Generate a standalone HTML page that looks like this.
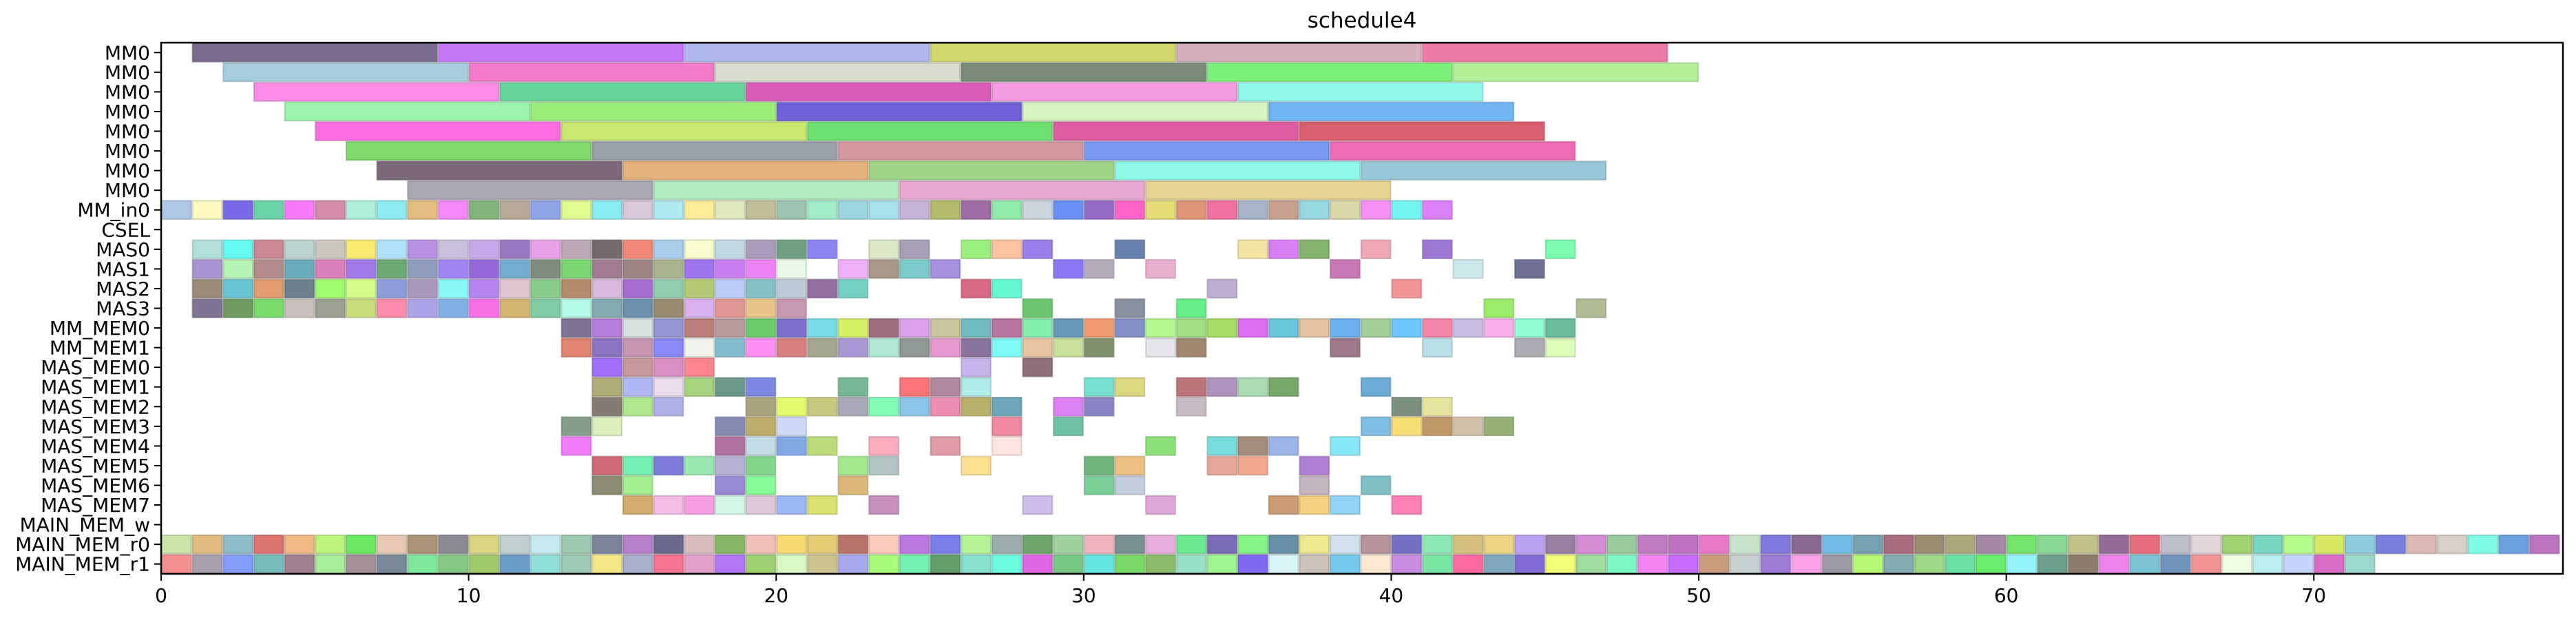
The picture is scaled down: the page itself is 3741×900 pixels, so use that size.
<!DOCTYPE html>
<html><head><meta charset="utf-8">
<style>
html,body{margin:0;padding:0;background:#fff;}
svg{display:block;font-family:"DejaVu Sans","Liberation Sans",sans-serif;}
</style></head>
<body>
<svg id="chart" width="3741" height="900" viewBox="0 0 3741 900" xmlns="http://www.w3.org/2000/svg">
<text x="1978" y="40" font-size="31" text-anchor="middle" fill="#000">schedule4</text>
<g id="bars"></g>
<g id="yaxis"></g>
<g id="xaxis"></g>
<rect x="234" y="62" width="3488" height="771" fill="none" stroke="#000" stroke-width="2.5"/>
</svg>
<script>
const rowLabels = ["MM0","MM0","MM0","MM0","MM0","MM0","MM0","MM0","MM_in0","CSEL","MAS0","MAS1","MAS2","MAS3","MM_MEM0","MM_MEM1","MAS_MEM0","MAS_MEM1","MAS_MEM2","MAS_MEM3","MAS_MEM4","MAS_MEM5","MAS_MEM6","MAS_MEM7","MAIN_MEM_w","MAIN_MEM_r0","MAIN_MEM_r1"];
const xTicks = [0,10,20,30,40,50,60,70];
const xMin = 0, xMax = 78.1;
// each entry: [start, duration, consecutive task colors]
const rowTasks = [
 [[1,8,'7a6a8c c377f7 b0b8ee d4d86a d4b0bc ee7aa8']],
 [[2,8,'a6cddc f27ac8 d8dccc 7a8a78 7df07a b4f09a']],
 [[3,8,'fa8ce8 66d49a d85cb8 f49ae0 90f8e8']],
 [[4,8,'9af4ac 9cec7a 7060d8 d8f4c0 70b4f4']],
 [[5,8,'fe6ee0 c8e870 6ee070 e05ca0 d86070']],
 [[6,8,'80da6c 9aa0a8 d4989c 7898f4 ee6cb4']],
 [[7,8,'7c6a7c e4b07c a0d488 90fae8 98c8d8']],
 [[8,8,'aaa6b6 b0ecc0 e8a8d4 e4d490']],
 [[0,1,'b0c8e8 fef8c0 7a6ae8 6ad4a8 f87af8 d48ca8 b0eedc 8ceaf0 e4bc80 f488f8 80b478 b8a898 90a4e8 e0fc90 8ceaf4 d8c8d8 b0e8f0 fcec98 e0e8c0 c0bc98 9cc4b0 a0ecc8 9cd4e0 a8e0ec c8b4d8 b4bc6c a06ca8 90eca8 ccd4e0 6890f4 946cc8 fe64c8 e4dc74 e09478 f070a0 a8b4c8 c8a090 98d8e0 dcd8ac f490f0 74f4f4 dc80f8']],
 [],
 [[1,1,'b0e0dc 66faf4 c88894 bcd4d0 ccc8c0 f8e870 b0e0fc b890e4 c8c0dc c4a8e8 9878c0 e8a0e8 bca8b4 746c6c f08878 a8ccec f8fccc c0d8e0 ac9cbc 70a080 8c84f0'],[23,1,'dce8c8 a8a0b4'],[26,1,'9cf080 fcc4a0 9c7ce8'],[31,1,'6880b0'],[35,1,'f4e4a4 d880f4 84b46c'],[39,1,'f0a8b8'],[41,1,'9c78d4'],[45,1,'7cfcb0']],
 [[1,1,'a894d0 b4f4b4 b48c8c 6aacbc dc80bc a078e8 6ca874 909cbc a084f4 9468dc 74acd0 808c80 7ad870 a07c90 9c8484 a8b490 9c74ec c880f0 ec84f8 e8f8e4'],[22,1,'f0b0f8 a89888 7ccaca a490dc'],[29,1,'8c78f4 b4acbc'],[32,1,'e8b0d0'],[38,1,'c878b4'],[42,1,'cce8ec'],[44,1,'707094']],
 [[1,1,'988c78 68c4d4 e09c6c 6c8090 a0fc6c d4fc88 8c9cd8 ac98bc 88f8f4 b484ec e0c4d0 88cc8c b48c6c d8b8dc a86cd0 90ccb0 b4c874 bcccf8 84c0c4 bccad8 9470a0 74d0c0'],[26,1,'d86884 66f8d4'],[34,1,'c0acd0'],[40,1,'f09494']],
 [[1,1,'807494 709c60 7adc6c c8c0bc 9ca090 c8dc7c fc8cac aca4e8 80b0e4 f870e8 d4b470 80cca4 b4fce8 80acb0 6c90b0 988c70 d8b0f0 e09494 e8c488 c898b0'],[28,1,'6cc870'],[31,1,'8890a0'],[33,1,'66ec88'],[43,1,'9cec6c'],[46,1,'b0bc94']],
 [[13,1,'807494 b87cdc d8e0e0 9494d4 bc7c7c b89c9c 6ccc6c 7c70cc 7adce8 d4f064 a06c80 dca0ec ccc49c 70bcc0 b874a0 84f0b0 6898b8 f09c70 8490c8 b4f890 a0e080 a8dc64 dc6cf0 68c4d8 e4c4a0 6cb0f0 a4cc98 6cc8fc f284a8 c8bce0 f8b0e8 90fcd4 6abc9c']],
 [[13,1,'e08470 8c74c4 c894b4 8888f8 f0f4ec 84bcd0 fc90f4 d88080 a4a890 a898d4 b0e8d4 909894 e898d0 88749c 80fcf8 e8c4a0 c8e09c 80906c'],[32,1,'e8e4ec a08870'],[38,1,'9c7888'],[41,1,'bce0e8'],[44,1,'acacb4 dcfcb8']],
 [[14,1,'a070f8 c8989c d890c4 fc8490'],[26,1,'c8b4ec'],[28,1,'907078']],
 [[14,1,'b0ac78 b0b8f4 ecdcf0 a8d480 6c988c 7c88e0'],[22,1,'78b898'],[24,1,'fc7478 b088a0 b0ece8'],[30,1,'78e0d0 dcd880'],[33,1,'bc7478 ac94bc acdcb4 78a868'],[39,1,'6cacd4']],
 [[14,1,'847c70 b0e890 b0b0e8'],[19,1,'aca480 e4fc6c c8c880 aaa8b8 80fcb4 8cc4e8 ec8cb0 b8b068 6ca4b8'],[29,1,'dc80f4 8884c4'],[33,1,'c8bcc4'],[40,1,'7c9080 e4e49c']],
 [[13,1,'869c8c dcf0bc'],[18,1,'8888b4 bcac6c ccd8f4'],[27,1,'f088a0'],[29,1,'70c0a4'],[39,1,'80bce4 f8dc74 c09868 d0c0a8 94b074']],
 [[13,1,'f07cf8'],[18,1,'b070a0 c4dce8 80a8e4 bcdc7c'],[23,1,'fcacbc'],[25,1,'e09ca4'],[27,1,'fce4e0'],[32,1,'8ce078'],[34,1,'7cdcdc a48c7c 9cb4e8'],[38,1,'84e8f8']],
 [[14,1,'d06878 74f0b4 7c7cd8 98e8b0 b4b0d4 84d48c'],[22,1,'a4e890 b4c4c4'],[26,1,'fce090'],[30,1,'70b47c ecc080'],[34,1,'e4a898 f4a890'],[37,1,'b080d4']],
 [[14,1,'8c8c74 a4f090'],[18,1,'9888d8 88fc98'],[22,1,'dcb878'],[30,1,'78d098 c4cce0'],[37,1,'c4b4c0'],[39,1,'80c0c4']],
 [[15,1,'d4ac6c f4bce4 f89ce4 d0f8e4 dcc8d8 9cb8f4 dce070'],[23,1,'c890bc'],[28,1,'d0bcec'],[32,1,'e0a8d8'],[36,1,'cc9c74 f4d080 90d4f4'],[40,1,'fc80b4']],
 [],
 [[0,1,'c8e4a8 e0bc80 8cbcc8 dc7470 f0b884 bcf47c 6ae864 e8c8b4 ac9478 8c8894 dcd480 c0d0d0 c8e8f0 9cc8b0 7c849c b880c8 6c6a8c d8bcbc 84b464 f0c0b8 f8d870 e4cc74 b8746c fccabc bc78e0 7a7ee8 b4f494 9cacac 6ca46c a0d0a0 f0b4c0 789090 e8acdc 6ae890 7a6cb4 84f484 6890a8 ece890 d0e0ec b49498 7470c4 8ce8b4 d4c07c ecd484 bca0f4 9880a0 d48cd4 98c89c c07cc0 bc70c0 e878c8 c8e4c8 8078dc 886890 70bce4 74a0b0 a86c7c 9c8c70 aca87c a488a4 74e46c 88d894 c0c088 946c98 e46c7c bcbec8 e4d4dc a0d070 78d4c0 b4fc8c d8e864 8ccadc 7880dc dcb8b4 d8d0c4 80fce4 6ca0e0 bc74c0']],
 [[0,1,'f49090 a8a0ac 849cfc 78bcbc a08090 a8ec9c a49098 788898 80e89c 84c884 a0c86c 6c9cc8 90e0d8 9ccab4 f4e884 a8b0cc f47490 e0a0c8 b074f4 9cd070 d8f8c4 ccc490 a8a8ec a8fc78 74f0b0 64a06c 88e0d0 6cfce0 e064e4 78c884 66e4e0 78d868 8abc6c 98e0c8 a0f490 8068f0 d8f4f4 ccc0b8 74c8ec fce8d0 c88ce0 7ae4a4 fc68a0 80a8bc 806cd4 f4fc78 a0dca0 7cf8c4 f484f4 c66cfc c89c7c c8d0d4 9c7cd4 fca0e8 9c98a8 b4f874 84acb0 9cd888 6ae0a4 6aec6c 94f4fc 6ca08c 8c7c6c ec84ec 7cc4d4 7094bc f09494 eefce0 bceeee c4d4fc d86cc4 9cd8cc']]
];

const NS = "http://www.w3.org/2000/svg";
const plotL = 234, plotR = 3722, plotT = 62, plotB = 833;
const rowH = (plotB - plotT) / rowLabels.length;
function xScale(v){ return plotL + (v - xMin) / (xMax - xMin) * (plotR - plotL); }
function yScale(i){ return plotT + i * rowH; }
function darker(hex){
  const n = parseInt(hex,16);
  const r = Math.round(((n>>16)&255)*0.78), g = Math.round(((n>>8)&255)*0.78), b = Math.round((n&255)*0.78);
  return 'rgb('+r+','+g+','+b+')';
}
const barsG = document.getElementById('bars');
rowTasks.forEach(function(entries, ri){
  entries.forEach(function(entry){
    const start = entry[0], dur = entry[1], cols = entry[2].split(' ');
    cols.forEach(function(c, k){
      const s = start + k*dur;
      const r = document.createElementNS(NS,'rect');
      const x0 = xScale(s), x1 = xScale(s+dur);
      r.setAttribute('x', x0+1); r.setAttribute('y', yScale(ri)+1);
      r.setAttribute('width', x1-x0-2); r.setAttribute('height', rowH-2);
      r.setAttribute('fill', '#'+c); r.setAttribute('stroke', darker(c)); r.setAttribute('stroke-width', '2');
      r.setAttribute('stroke-opacity','0.6');
      
      
      barsG.appendChild(r);
    });
  });
});
const yG = document.getElementById('yaxis');
rowLabels.forEach(function(lab, i){
  const yc = yScale(i) + rowH/2;
  const t = document.createElementNS(NS,'line');
  t.setAttribute('x1', plotL-10); t.setAttribute('x2', plotL); t.setAttribute('y1', yc); t.setAttribute('y2', yc);
  t.setAttribute('stroke','#000'); t.setAttribute('stroke-width','2');
  
  
  yG.appendChild(t);
  const tx = document.createElementNS(NS,'text');
  tx.setAttribute('x', plotL-16); tx.setAttribute('y', yc+10);
  tx.setAttribute('font-size','28'); tx.setAttribute('text-anchor','end');
  tx.textContent = lab;
  
  
  yG.appendChild(tx);
});
const xG = document.getElementById('xaxis');
xTicks.forEach(function(v){
  const x = xScale(v);
  const t = document.createElementNS(NS,'line');
  t.setAttribute('x1', x); t.setAttribute('x2', x); t.setAttribute('y1', plotB); t.setAttribute('y2', plotB+10);
  t.setAttribute('stroke','#000'); t.setAttribute('stroke-width','2');
  
  
  xG.appendChild(t);
  const tx = document.createElementNS(NS,'text');
  tx.setAttribute('x', x); tx.setAttribute('y', plotB+41);
  tx.setAttribute('font-size','28'); tx.setAttribute('text-anchor','middle');
  tx.textContent = String(v);
  
  
  xG.appendChild(tx);
});
</script>
</body></html>
